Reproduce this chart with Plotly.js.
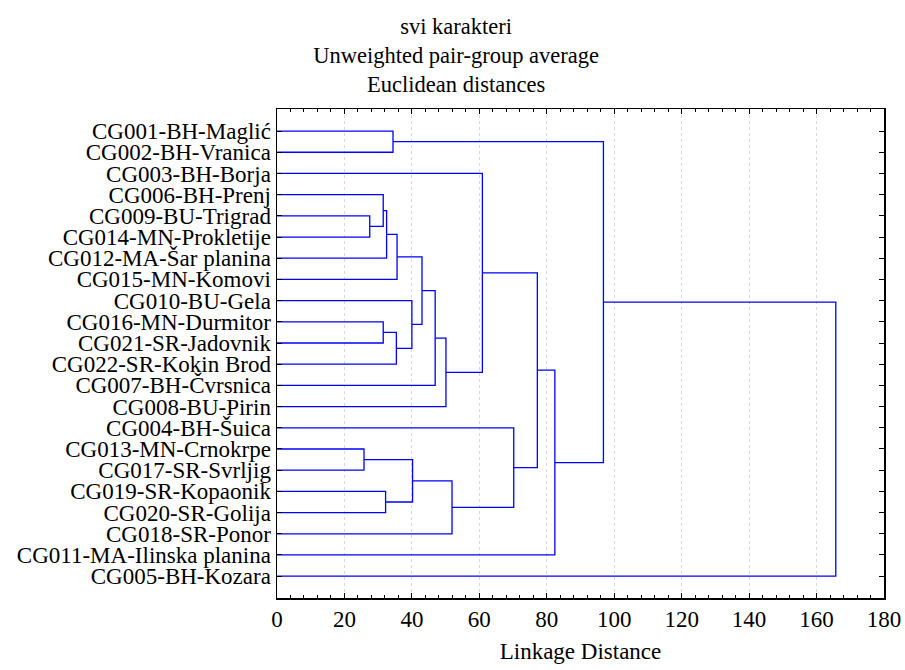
<!DOCTYPE html>
<html>
<head>
<meta charset="utf-8">
<script src="https://cdn.plot.ly/plotly-3.0.1.min.js"></script>
<style>html,body{margin:0;padding:0;background:#fff;}#chart{width:905px;height:670px;}</style>
</head>
<body>
<div id="chart"></div>
<script>
// Leaves in dendrogram order (top to bottom)
const leafLabels = [
  "CG001-BH-Maglić", "CG002-BH-Vranica", "CG003-BH-Borja", "CG006-BH-Prenj",
  "CG009-BU-Trigrad", "CG014-MN-Prokletije", "CG012-MA-Šar planina", "CG015-MN-Komovi",
  "CG010-BU-Gela", "CG016-MN-Durmitor", "CG021-SR-Jadovnik", "CG022-SR-Kokin Brod",
  "CG007-BH-Čvrsnica", "CG008-BU-Pirin", "CG004-BH-Šuica", "CG013-MN-Crnokrpe",
  "CG017-SR-Svrljig", "CG019-SR-Kopaonik", "CG020-SR-Golija", "CG018-SR-Ponor",
  "CG011-MA-Ilinska planina", "CG005-BH-Kozara"
];
// Linkage: merge k creates node 22+k from nodes mergeA[k] and mergeB[k] at mergeHeight[k]
const mergeA = [4, 3, 23, 24, 9, 26, 8, 25, 29, 30, 2, 15, 17, 33, 35, 14, 32, 38, 0, 40, 41];
const mergeB = [5, 22, 6, 7, 10, 11, 27, 28, 12, 13, 31, 16, 18, 34, 19, 36, 37, 20, 1, 39, 21];
const mergeHeight = [27.5, 31.5, 32.5, 35.6, 31.5, 35.4, 40.0, 43.0, 46.9, 50.1, 60.9,
                     25.8, 32.2, 40.2, 51.9, 70.2, 77.2, 82.4, 34.4, 96.8, 165.7];
const xTickVals = [0, 20, 40, 60, 80, 100, 120, 140, 160, 180];

const nLeaves = leafLabels.length;
const nodeY = [], nodeH = [];
for (let i = 0; i < nLeaves; i++) { nodeY.push(i + 1); nodeH.push(0); }
const xs = [], ys = [];
for (let k = 0; k < mergeA.length; k++) {
  const a = mergeA[k], b = mergeB[k], H = mergeHeight[k];
  xs.push(nodeH[a], H, H, nodeH[b], null);
  ys.push(nodeY[a], nodeY[a], nodeY[b], nodeY[b], null);
  nodeY.push((nodeY[a] + nodeY[b]) / 2);
  nodeH.push(H);
}

const serif = "Liberation Serif";
const data = [{
  type: "scatter", mode: "lines", x: xs, y: ys,
  line: {color: "#0000ff", width: 1.3}, hoverinfo: "skip", showlegend: false
}];
const layout = {
  width: 905, height: 670,
  margin: {l: 277, r: 21, t: 109, b: 72},
  paper_bgcolor: "#fff", plot_bgcolor: "#fff",
  font: {family: serif, size: 23, color: "#000"},
  title: {
    text: "svi karakteri<br>Unweighted pair-group average<br>Euclidean distances",
    font: {family: serif, size: 22.5, color: "#000"},
    x: 0.504, xanchor: "center", y: 0.950, yanchor: "top", yref: "container"
  },
  xaxis: {
    range: [0, 180], tickvals: xTickVals, ticks: "inside", ticklen: 5, tickwidth: 1,
    tickcolor: "#000", showline: true, linecolor: "#000", linewidth: 1.5, mirror: "ticks",
    showgrid: true, gridcolor: "#d9d9d9", griddash: "dot", gridwidth: 1, zeroline: false,
    minor: {dtick: 4, ticks: "inside", ticklen: 3, tickcolor: "#000", showgrid: false},
    tickfont: {family: serif, size: 23, color: "#000"},
    title: {text: "Linkage Distance", font: {family: serif, size: 23, color: "#000"}, standoff: 12}
  },
  yaxis: {
    range: [23.03, -0.04], tickvals: leafLabels.map((_, i) => i + 1), ticktext: leafLabels,
    ticks: "inside", ticklen: 5, tickwidth: 1, tickcolor: "#000",
    showline: true, linecolor: "#000", linewidth: 1.5, mirror: "ticks",
    showgrid: false, zeroline: false,
    tickfont: {family: serif, size: 23, color: "#000"}
  }
};
Plotly.newPlot("chart", data, layout, {displayModeBar: false, staticPlot: true});
</script>
</body>
</html>
